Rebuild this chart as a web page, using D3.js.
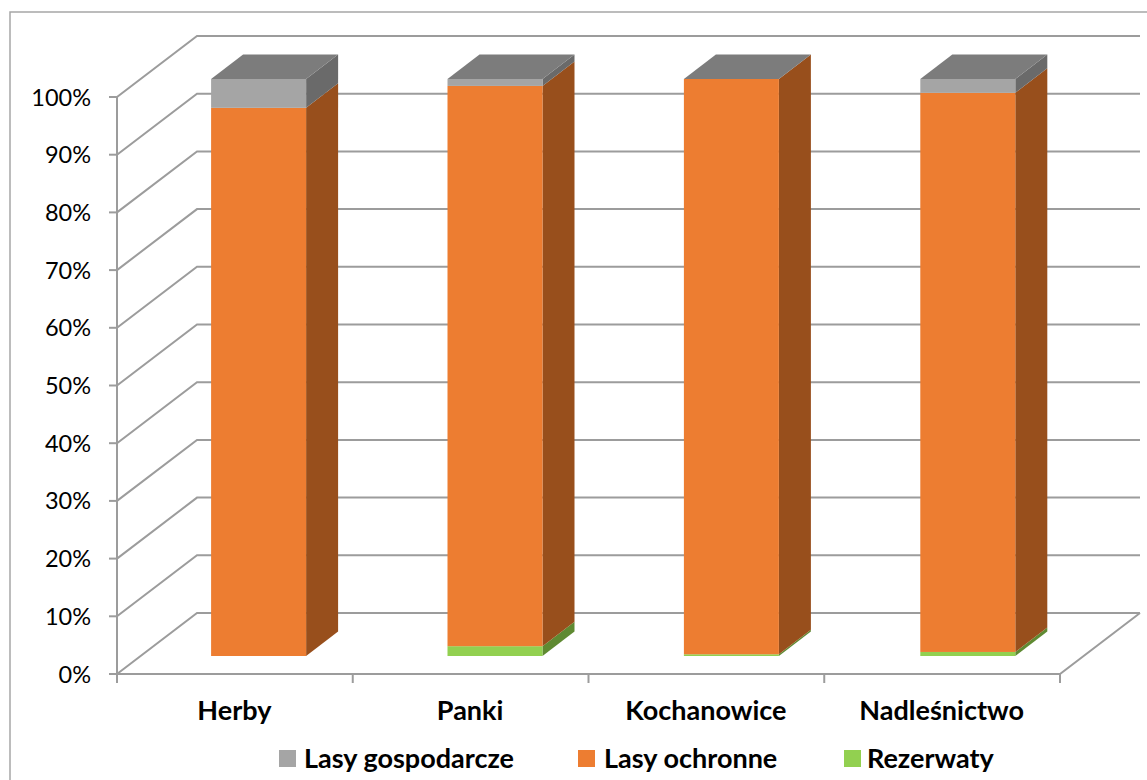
<!DOCTYPE html>
<html><head><meta charset="utf-8">
<script src="https://cdn.jsdelivr.net/npm/d3@7/dist/d3.min.js"></script>
<style>html,body{margin:0;padding:0;background:#fff}svg{display:block}text{font-family:Lato,"Open Sans",sans-serif;fill:#000}</style>
</head><body><svg id="c" width="1147" height="780"></svg>
<script>
const categories = ["Herby","Panki","Kochanowice","Nadleśnictwo"];
const seriesNames = ["Rezerwaty","Lasy ochronne","Lasy gospodarcze"];
const rezerwaty = [0, 1.7, 0.3, 0.7];
const lasyOchronne = [95, 97.1, 99.7, 96.9];
const lasyGospodarcze = [5, 1.2, 0, 2.4];
const percentTicks = [0,10,20,30,40,50,60,70,80,90,100];
const legendOrder = ["Lasy gospodarcze","Lasy ochronne","Rezerwaty"];

const svg = d3.select("#c");
const front = {left:117,right:1060,bottom:674,top:97};
const wall = {dx:80,dy:-61};
const barDepth = {dx:32,dy:-24.5};
const barBaseDy = -18;
const barW = 95;
const gridCol = "#9c9c9c";

const colours = d3.scaleOrdinal().domain(seriesNames).range(["#92d050","#ed7d31","#a5a5a5"]);
const sideCol = d3.scaleOrdinal().domain(seriesNames).range(["#5f8a32","#984f1c","#6a6a6a"]);
const topCol = "#7c7c7c";

const x = d3.scaleBand().domain(categories).range([front.left,front.right]);
const xBar = d3.scaleBand().domain(categories).range([140.4,1086]);
const y = d3.scaleLinear().domain([0,100]).range([front.bottom,front.top]);

svg.append("rect").attr("x",10).attr("y",12).attr("width",1160).attr("height",800)
  .attr("fill","#fff").attr("stroke","#a6a6a6").attr("stroke-width",1.5);

const grid = svg.append("g").attr("fill","none").attr("stroke",gridCol).attr("stroke-width",2);
percentTicks.forEach(t=>{
  const yy=y(t);
  grid.append("path").attr("d",d3.line()([[front.left,yy],[front.left+wall.dx,yy+wall.dy],[front.right+wall.dx,yy+wall.dy]]));
  grid.append("line").attr("x1",front.left-8).attr("x2",front.left).attr("y1",yy).attr("y2",yy);
});
grid.append("line").attr("x1",front.left).attr("x2",front.left).attr("y1",y(100)).attr("y2",y(0));
grid.append("path").attr("d",d3.line()([[front.left,y(0)],[front.right,y(0)],[front.right+wall.dx,y(0)+wall.dy]]));
[...categories.map(c=>x(c)),front.right].forEach(px=>{
  grid.append("line").attr("x1",px).attr("x2",px).attr("y1",y(0)).attr("y2",y(0)+9);
});

svg.append("g").selectAll("text").data(percentTicks).join("text")
  .attr("x",front.left-26).attr("y",t=>y(t)+8.5).attr("text-anchor","end")
  .attr("font-size",23.5).text(t=>t+"%");

const stack = categories.map((c,i)=>{
  const vals=[rezerwaty[i],lasyOchronne[i],lasyGospodarcze[i]];
  let acc=0;
  return seriesNames.map((s,k)=>{const d={c,s,v0:acc,v1:acc+vals[k]};acc+=vals[k];return d;}).filter(d=>d.v1>d.v0);
});
const bars = svg.append("g");
stack.forEach(col=>{
  col.forEach(d=>{
    const x0=xBar(d.c)+(xBar.bandwidth()-barW)/2, x1=x0+barW;
    const yb=y(d.v0)+barBaseDy, yt=y(d.v1)+barBaseDy;
    bars.append("path").attr("fill",sideCol(d.s)).attr("d",d3.line()([[x1,yb],[x1+barDepth.dx,yb+barDepth.dy],[x1+barDepth.dx,yt+barDepth.dy],[x1,yt]]));
    bars.append("rect").attr("x",x0).attr("y",yt).attr("width",barW).attr("height",yb-yt).attr("fill",colours(d.s));
  });
  const d=col[col.length-1];
  const x0=xBar(d.c)+(xBar.bandwidth()-barW)/2, x1=x0+barW, yt=y(d.v1)+barBaseDy;
  bars.append("path").attr("fill",topCol).attr("d",d3.line()([[x0,yt],[x1,yt],[x1+barDepth.dx,yt+barDepth.dy],[x0+barDepth.dx,yt+barDepth.dy]]));
});

svg.append("g").selectAll("text").data(categories).join("text")
  .attr("x",c=>x(c)+x.bandwidth()/2-0.5).attr("y",720).attr("text-anchor","middle")
  .attr("font-size",27).attr("font-weight",700).text(d=>d);

const legendX = d3.scaleOrdinal().domain(legendOrder).range([279,578,844]);
const lg = svg.append("g").selectAll("g").data(legendOrder).join("g")
  .attr("transform",d=>`translate(${legendX(d)},750)`);
lg.append("rect").attr("width",17).attr("height",17).attr("fill",d=>colours(d));
lg.append("text").attr("x",d=>d==="Lasy gospodarcze"?25:d==="Lasy ochronne"?26:23).attr("y",18).attr("font-size",27).attr("font-weight",700).text(d=>d);
</script></body></html>
